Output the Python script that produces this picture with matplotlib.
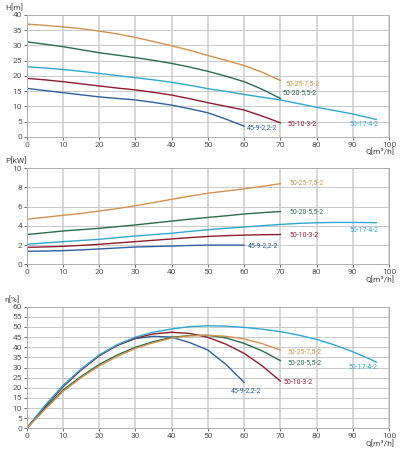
import numpy as np
import matplotlib.pyplot as plt

plt.rcParams['font.family'] = ['Roboto', 'DejaVu Sans']

# flow points (m3/h)
q_45 = [0, 5, 10, 15, 20, 25, 30, 35, 40, 45, 50, 55, 60]
q_70 = [0, 5, 10, 15, 20, 25, 30, 35, 40, 45, 50, 55, 60, 65, 70]
q_17 = [0, 5, 10, 15, 20, 25, 30, 35, 40, 45, 50, 55, 60, 65, 70, 75, 80, 85, 90, 95, 96.5]

names = ['45-9-2,2-2', '50-10-3-2', '50-17-4-2', '50-20-5,5-2', '50-25-7,5-2']
colors = ['#2f5f9e', '#8e1c2c', '#2ea7d2', '#2c6b4c', '#d2914f']

# head H[m]
h_45_9 = [15.9, 15.2, 14.5, 13.8, 13.1, 12.6, 12.1, 11.3, 10.4, 9.2, 7.9, 5.8, 3.5]
h_50_10 = [19.2, 18.7, 18.1, 17.4, 16.7, 16.0, 15.4, 14.6, 13.7, 12.5, 11.2, 10.0, 8.8, 6.8, 4.6]
h_50_17 = [23.0, 22.6, 22.1, 21.5, 20.8, 20.1, 19.4, 18.7, 17.9, 16.9, 15.8, 14.9, 13.9, 13.0,
           12.1, 10.9, 9.7, 8.6, 7.5, 6.1, 5.7]
h_50_20 = [31.2, 30.4, 29.6, 28.6, 27.6, 26.8, 26.0, 25.1, 24.1, 22.9, 21.5, 19.9, 18.1, 15.6, 12.6]
h_50_25 = [37.0, 36.6, 36.1, 35.5, 34.7, 33.8, 32.6, 31.3, 29.9, 28.4, 26.7, 25.1, 23.4, 21.2, 18.5]

# power P[kW]
p_45_9 = [1.35, 1.38, 1.42, 1.5, 1.6, 1.7, 1.8, 1.85, 1.9, 1.96, 2.0, 2.0, 2.0]
p_50_10 = [1.77, 1.81, 1.87, 1.97, 2.08, 2.22, 2.36, 2.5, 2.64, 2.78, 2.9, 2.98, 3.04, 3.08, 3.1]
p_50_17 = [2.08, 2.22, 2.36, 2.48, 2.6, 2.78, 2.95, 3.09, 3.23, 3.42, 3.6, 3.75, 3.88, 4.02,
           4.15, 4.26, 4.33, 4.36, 4.36, 4.34, 4.33]
p_50_20 = [3.1, 3.28, 3.47, 3.61, 3.75, 3.92, 4.1, 4.3, 4.5, 4.7, 4.88, 5.05, 5.24, 5.38, 5.5]
p_50_25 = [4.69, 4.9, 5.1, 5.3, 5.55, 5.8, 6.1, 6.43, 6.77, 7.1, 7.4, 7.63, 7.86, 8.12, 8.4]

# efficiency eta[%]
e_45_9 = [0, 11, 21, 29, 36, 41, 44.3, 45.4, 45.0, 42.3, 38.6, 31.5, 22.7]
e_50_10 = [0, 10.5, 20.5, 28.8, 35.8, 41, 44.5, 46.6, 47.4, 46.8, 44.9, 41.5, 37, 30.8, 23.3]
e_50_17 = [0, 11.2, 21, 29.3, 36.2, 41.3, 45, 47.5, 49, 50.2, 50.6, 50.4, 49.8, 48.9, 47.7,
           46, 43.9, 41.1, 37.8, 34, 32.6]
e_50_20 = [0, 9.8, 18.9, 25.6, 31.5, 36.2, 40, 42.8, 44.9, 45.8, 45.9, 44.6, 41.9, 38.2, 33.4]
e_50_25 = [0, 9.3, 18.2, 25, 30.8, 35.5, 39.4, 42.3, 44.5, 45.6, 45.9, 45.4, 44.1, 41.8, 38.6]

qs = [q_45, q_70, q_17, q_70, q_70]
heads = [h_45_9, h_50_10, h_50_17, h_50_20, h_50_25]
powers = [p_45_9, p_50_10, p_50_17, p_50_20, p_50_25]
effs = [e_45_9, e_50_10, e_50_17, e_50_20, e_50_25]

# label anchor positions (Q, value) per panel
h_lbl = [(60.7, 2.9), (72, 4.2), (89, 4.2), (70.7, 14.5), (71.5, 17.6)]
p_lbl = [(61, 1.94), (72.4, 3.05), (89, 3.57), (72.4, 5.48), (72.4, 8.54)]
e_lbl = [(56.4, 18.4), (71, 22.8), (88.9, 29.9), (72, 32.6), (72, 37.8)]

fig = plt.figure(figsize=(4, 4.5), dpi=100)
ax_h = fig.add_axes([0.067, 0.696, 0.9055, 0.2707])
ax_p = fig.add_axes([0.067, 0.4127, 0.9055, 0.2133])
ax_e = fig.add_axes([0.067, 0.0482, 0.9055, 0.2702])

panels = [
    (ax_h, heads, h_lbl, 40, 5, 'H[m]'),
    (ax_p, powers, p_lbl, 10, 2, 'P[kW]'),
    (ax_e, effs, e_lbl, 60, 5, 'η[%]'),
]

for ax, ys, lbls, ymax, ystep, ylab in panels:
    for q, y, c, n, (lx, ly) in zip(qs, ys, colors, names, lbls):
        ax.plot(q, y, color=c, lw=1.0)
        ax.text(lx, ly, n, color=c, fontsize=5, va='center', ha='left')
    ax.set_xlim(0, 100)
    ax.set_ylim(0, ymax)
    ax.set_xticks(np.arange(0, 101, 10))
    ax.set_yticks(np.arange(0, ymax + 0.1, ystep))
    ax.grid(True, axis='x', color='#d0d0d0', lw=1.2)
    ax.grid(True, axis='y', color='#c8c8c8', lw=0.7)
    ax.set_axisbelow(True)
    for s in ax.spines.values():
        s.set_color('#b0b0b0')
        s.set_linewidth(0.7)
    ax.tick_params(labelsize=6, colors='#555555', length=2, width=0.6, pad=1.5)
    ax.annotate(ylab, xy=(0, 1), xycoords='axes fraction', xytext=(-22, 4),
                textcoords='offset pixels', fontsize=6, color='#444444',
                ha='left', va='bottom')
    ax.annotate('Q[m³/h]', xy=(1, 0), xycoords='axes fraction', xytext=(6, -11),
                textcoords='offset pixels', fontsize=6, color='#444444',
                ha='right', va='top')

fig.savefig('out.png', dpi=100)
